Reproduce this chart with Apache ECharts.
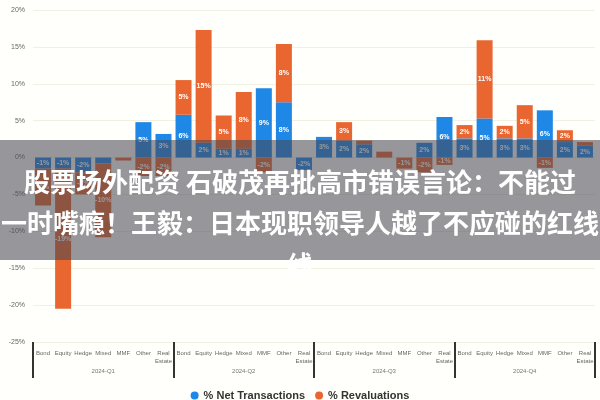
<!DOCTYPE html>
<html>
<head>
<meta charset="utf-8">
<script src="https://cdn.jsdelivr.net/npm/echarts@6/dist/echarts.min.js"></script>
<style>
html,body{margin:0;padding:0;background:#fffffb;}
#chart{width:600px;height:400px;}
</style>
</head>
<body>
<div id="chart"></div>
<script>
const fundTypes = ['Bond', 'Equity', 'Hedge', 'Mixed', 'MMF', 'Other', 'Real\nEstate'];
const groups = ['2024-Q1', '2024-Q2', '2024-Q3', '2024-Q4'];
const categories = [];
groups.forEach(function (g) { fundTypes.forEach(function (f) { categories.push(f); }); });

const netTransactions = [
  -1.5, -1.5, -2.0, -0.8, 0, 4.8, 3.2,
  5.8, 2.0, 1.2, 1.2, 9.4, 7.5, -1.7,
  2.8, 2.3, 1.8, 0, 0, 2.0, 5.5,
  2.6, 5.3, 2.6, 2.6, 6.4, 2.1, 1.6
];
const revaluations = [
  -5.0, -19.0, -3.0, -10.0, -0.4, -2.5, -2.5,
  4.7, 15.3, 4.5, 7.7, -2.0, 7.9, 0,
  0, 2.5, 0.5, 0.8, -1.5, -2.0, -1.0,
  1.8, 10.6, 1.7, 4.5, -1.4, 1.6, 0.5
];
const yTicks = { min: -25, max: 20, interval: 5 };
const overlayLines = [
  '股票场外配资 石破茂再批高市错误言论：不能过',
  '一时嘴瘾！王毅：日本现职领导人越了不应碰的红线',
  '线'
];

const chart = echarts.init(document.getElementById('chart'));
const labelCfg = {
  show: true,
  position: 'inside',
  color: '#fff',
  fontSize: 7,
  fontWeight: 'bold',
  formatter: function (p) {
    const v = p.value;
    return Math.abs(v) >= 1 ? Math.round(v) + '%' : '';
  }
};
const overlayGraphics = [{
  type: 'rect',
  z: 100,
  shape: { x: 0, y: 140, width: 600, height: 120 },
  style: { fill: 'rgba(70,70,80,0.56)' }
}];
const lineY = [182, 223, 265];
overlayLines.forEach(function (t, i) {
  overlayGraphics.push({
    type: 'text',
    z: 101,
    x: 300,
    y: lineY[i],
    style: {
      text: t,
      fill: '#ffffff',
      font: 'bold 26px "Noto Sans CJK SC"',
      textAlign: 'center',
      textVerticalAlign: 'middle'
    }
  });
});

chart.setOption({
  backgroundColor: '#fffffb',
  animation: false,
  textStyle: { fontFamily: 'Liberation Sans, Arial, sans-serif' },
  grid: { left: 33, right: 5, top: 10, bottom: 58 },
  legend: {
    top: 385,
    left: 'center',
    icon: 'circle',
    itemWidth: 8,
    itemHeight: 8,
    itemGap: 10,
    textStyle: { fontSize: 11, fontWeight: 'bold', color: '#333' },
    data: ['% Net Transactions', '% Revaluations']
  },
  xAxis: [{
    type: 'category',
    data: categories,
    position: 'bottom',
    axisLine: { show: false, onZero: false },
    axisTick: { show: false },
    axisLabel: { interval: 0, fontSize: 6, color: '#666', margin: 7, lineHeight: 8 },
    splitLine: { show: false }
  }, {
    type: 'category',
    data: groups,
    position: 'bottom',
    axisLine: { show: false, onZero: false },
    axisTick: { show: true, interval: 0, length: 36, lineStyle: { color: '#333', width: 2 } },
    axisLabel: { interval: 0, fontSize: 6, color: '#777', margin: 26 },
    splitLine: { show: false }
  }],
  yAxis: {
    type: 'value',
    min: yTicks.min,
    max: yTicks.max,
    interval: yTicks.interval,
    axisLine: { show: false },
    axisTick: { show: false },
    axisLabel: { formatter: '{value}%', fontSize: 7, color: '#666', margin: 8 },
    splitLine: { lineStyle: { color: '#f1f0e2', width: 1 } }
  },
  series: [{
    name: '% Net Transactions',
    type: 'bar',
    stack: 'total',
    barWidth: 16,
    itemStyle: { color: '#1f87e6' },
    label: labelCfg,
    data: netTransactions
  }, {
    name: '% Revaluations',
    type: 'bar',
    stack: 'total',
    barWidth: 16,
    itemStyle: { color: '#ea6630' },
    label: labelCfg,
    data: revaluations
  }],
  graphic: overlayGraphics
});
</script>
</body>
</html>
